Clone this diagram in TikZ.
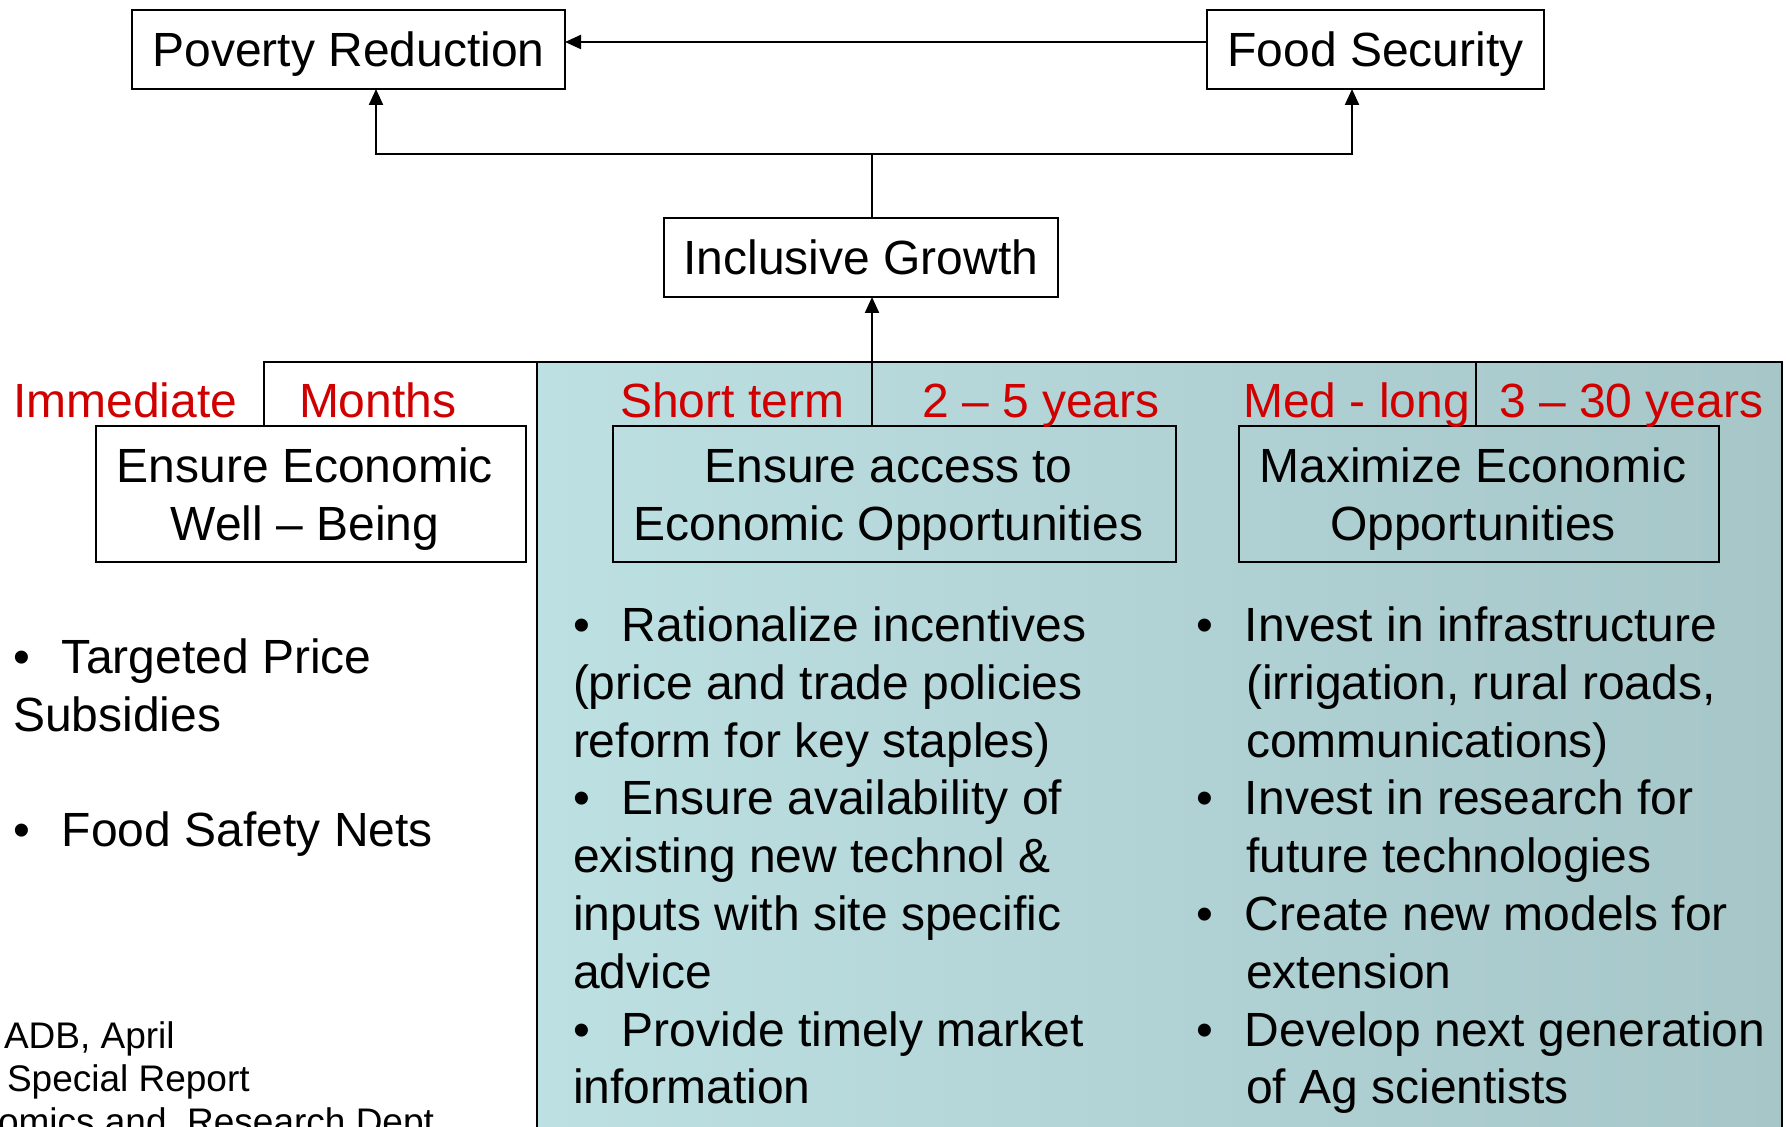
\documentclass[tikz,border=0pt]{standalone}
\usepackage{fontspec}
\setmainfont{Liberation Sans}
\usetikzlibrary{arrows.meta}
\definecolor{lblred}{RGB}{208,0,0}
\definecolor{shadeL}{RGB}{189,224,227}
\definecolor{shadeR}{RGB}{166,198,200}
\newcommand\bul{\makebox[24.5pt][l]{•}}
\newcommand\twol[3]{\begin{tabular}[t]{@{}c@{\hspace{#1}}}#2\\#3\end{tabular}}
\begin{document}
\begin{tikzpicture}[x=0.5pt,y=-0.5pt,
  every node/.style={inner sep=0pt, outer sep=0pt},
  bigfont/.style={font=\fontsize{24}{29}\selectfont},
  txt/.style={bigfont, anchor=base west},
  redlbl/.style={txt, text=lblred},
  small/.style={anchor=base west, font=\fontsize{18.5}{21.5}\selectfont},
  boxA/.style={draw=black, line width=1.2pt, fill=white, bigfont, text height=17.5pt, text depth=0pt},
  boxB/.style={draw=black, line width=1pt, bigfont, text height=17pt, text depth=28pt},
  arr/.style={line width=1.1pt, -{Triangle[length=8pt,width=7pt]}},
  conn/.style={line width=1.1pt},
  frame/.style={line width=1.2pt}]
\useasboundingbox (0,0) rectangle (1786,1127);
\begin{scope}
\clip (0,0) rectangle (1786,1127);
\shade[left color=shadeL, right color=shadeR] (537,362) rectangle (1782,1140);
\draw[frame] (537,1140) -- (537,362) -- (1782,362) -- (1782,1140);
\end{scope}
\draw[frame] (264,426) -- (264,362) -- (537,362);
\draw[line width=0.8pt] (1476,362) -- (1476,426);

% boxes
\node[boxA, minimum width=216.5pt, minimum height=39.5pt] (pr) at (348.5,49.5) {Poverty Reduction};
\node[boxA, minimum width=168.5pt, minimum height=39.5pt] (fs) at (1375.5,49.5) {Food Security};
\node[boxA, minimum width=197pt, minimum height=39.5pt] (ig) at (861,257.5) {Inclusive Growth};
\node[boxB, fill=white, minimum width=215pt, minimum height=68pt] (ew) at (311,494) {\twol{6pt}{Ensure Economic}{Well – Being}};
\node[boxB, minimum width=281.5pt, minimum height=68pt] (ea) at (894.5,494) {\twol{6pt}{Ensure access to}{Economic Opportunities}};
\node[boxB, minimum width=240pt, minimum height=68pt] (mx) at (1479,494) {\twol{6pt}{Maximize Economic}{Opportunities}};

% connectors
\coordinate (j) at (872,154);
\draw[conn] (ig.north -| j) -- (j);
\draw[arr] (j) -| ([xshift=13.75pt]pr.south);
\draw[arr] (j) -| ([xshift=-11.75pt]fs.south);
\draw[arr] ([yshift=3.75pt]fs.west) -- ([yshift=3.75pt]pr.east);
\draw[arr] (ea.north -| j) -- (ig.south -| j);

% time labels
\node[redlbl] (l1) at (13,418) {Immediate};
\node[redlbl] (l2) at (299,418) {Months};
\node[redlbl] (l3) at (620,418) {Short term};
\node[redlbl] (l4) at (922,418) {2 – 5 years};
\node[redlbl] (l5) at (1243,418) {Med - long};
\node[redlbl] (l6) at (1499,418) {3 – 30 years};

% left column
\node[txt] (t1) at (13,673) {\bul Targeted Price};
\node[txt] (t2) at (13,731) {Subsidies};
\node[txt] (t3) at (13,846) {\bul Food Safety Nets};

% middle column
\node[txt] (m1) at (573,641) {\bul Rationalize incentives};
\node[txt] (m2) at (573,699) {(price and trade policies};
\node[txt] (m3) at (573,757) {reform for key staples)};
\node[txt] (m4) at (573,814) {\bul Ensure availability of};
\node[txt] (m5) at (573,872) {existing new technol \&};
\node[txt] (m6) at (573,930) {inputs with site specific};
\node[txt] (m7) at (573,988) {advice};
\node[txt] (m8) at (573,1046) {\bul Provide timely market};
\node[txt] (m9) at (573,1103) {information};

% right column
\node[txt] (r1) at (1196,641) {\bul Invest in infrastructure};
\node[txt] (r2) at (1246,699) {(irrigation, rural roads,};
\node[txt] (r3) at (1246,757) {communications)};
\node[txt] (r4) at (1196,814) {\bul Invest in research for};
\node[txt] (r5) at (1246,872) {future technologies};
\node[txt] (r6) at (1196,930) {\bul Create new models for};
\node[txt] (r7) at (1246,988) {extension};
\node[txt] (r8) at (1196,1046) {\bul Develop next generation};
\node[txt] (r9) at (1246,1103) {of Ag scientists};

% source note
\node[small] (s1) at (4,1048) {ADB, April};
\node[small] (s2) at (7,1091) {Special Report};
\node[small] (s3) at (-2,1134) {omics and\ \ Research Dept};
\end{tikzpicture}
\end{document}
